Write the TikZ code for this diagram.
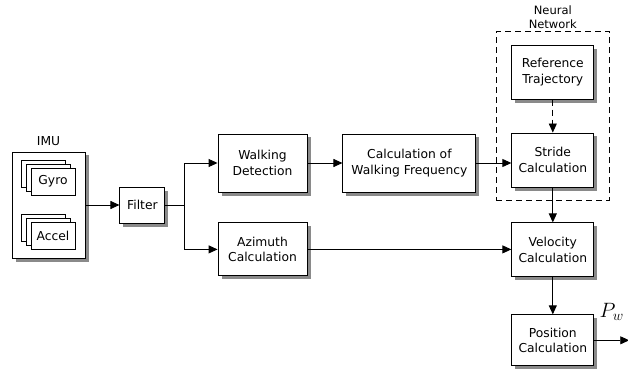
\documentclass[tikz,border=0pt]{standalone}
\usepackage{fontspec}
\setmainfont{DejaVu Sans}
\usetikzlibrary{arrows.meta,positioning,fit,shadows}
\definecolor{shade}{HTML}{8A8A8A}

\begin{document}
\begin{tikzpicture}[x=1pt,y=-1pt,
  font=\fontsize{12.3}{15.5}\selectfont, >={Triangle[length=9pt,width=8pt]},
  line width=0.9pt,
  blk/.style={draw, fill=white, align=center, inner sep=2pt, drop shadow={shadow xshift=3.5pt, shadow yshift=-3.5pt, fill=shade, opacity=1}},
  card/.style={draw, fill=white, minimum width=44pt, minimum height=27pt, inner sep=0pt,
    general shadow={shadow xshift=-10pt, shadow yshift=8pt, draw, fill=white},
    general shadow={shadow xshift=-5pt, shadow yshift=4pt, draw, fill=white}},
  col/.style={blk, minimum width=82pt, minimum height=54pt},
  dsh/.style={dash pattern=on 6pt off 4pt},
]
\useasboundingbox (0,0) rectangle (628,374);
% sensor unit and filter
\node[blk, minimum width=73pt, minimum height=106pt] (imu) at (48.5,205) {};
\node[inner sep=2pt, above=3pt of imu] (imulbl) {IMU};
\node[card, below right=16pt and 19pt of imu.north west] (gyro) {Gyro};
\node[card, below=27pt of gyro] (accel) {Accel};
\node[blk, minimum width=45pt, minimum height=36pt, right=34pt of imu] (filt) {Filter};
\coordinate[right=19pt of filt] (split);
% middle chain
\node[blk, minimum width=89pt, minimum height=58pt] (walk) at (262.5,163) {Walking\\Detection};
\node[blk, minimum width=133pt, minimum height=58pt, right=35pt of walk] (freq) {Calculation of\\Walking Frequency};
\node[blk, minimum width=89pt, minimum height=53pt, below=30pt of walk] (azim) {Azimuth\\Calculation};
% right column
\node[col, right=35pt of freq, yshift=3pt] (stride) {Stride\\Calculation};
\node[col, above=33pt of stride] (reftraj) {Reference\\Trajectory};
\node[col, below=35pt of stride] (vel) {Velocity\\Calculation};
\node[col, minimum height=51pt, below=37pt of vel] (pos) {Position\\Calculation};
\node[draw, dsh, fit=(reftraj)(stride), inner xsep=15pt, inner ysep=13pt] (nn) {};
\node[inner sep=1pt, align=center, font=\fontsize{11.5}{14}\selectfont, above=1pt of nn] (nnlbl) {Neural\\Network};
\coordinate[right=35pt of pos] (out);
\node[inner sep=0pt, font=\fontsize{20}{20}\selectfont, above right=19pt and 5pt of pos.east] (pw) {$P_w$};
% connectors
\draw[->] (imu) -- (filt);
\draw (filt) -- (split);
\draw[->] (split) |- (walk);
\draw[->] (split) |- (azim);
\draw[->] (walk) -- (freq);
\draw[->] (freq.east) -- (freq.east -| stride.west);
\draw[->, dsh] (reftraj) -- (stride);
\draw[->] (stride) -- (vel);
\draw[->] (azim) -- (azim -| vel.west);
\draw[->] (vel) -- (pos);
\draw[->] (pos) -- (out);
\end{tikzpicture}
\end{document}
